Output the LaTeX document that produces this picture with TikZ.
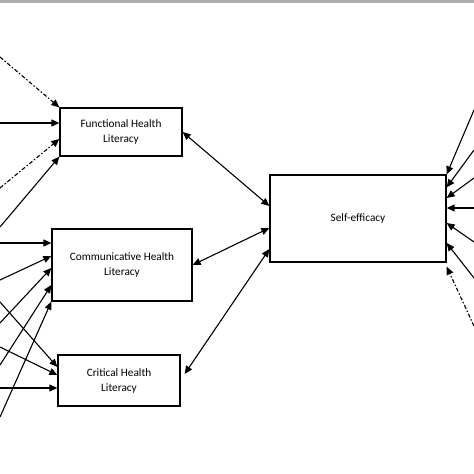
\documentclass[tikz,border=0pt]{standalone}
\usepackage{fontspec}
\setmainfont{Carlito}
\usetikzlibrary{arrows.meta}

\begin{document}
\begin{tikzpicture}[
		x=1pt,y=-1pt,
		box/.style={draw,line width=1.3pt,align=center,inner sep=0pt,font=\fontsize{11.3}{15}\selectfont},
		link/.style={line width=1.1pt,-{Triangle[length=8pt,width=7pt]}},
		both/.style={line width=1.1pt,{Triangle[length=8pt,width=7pt]}-{Triangle[length=8pt,width=7pt]}},
		dashdot/.style={dash pattern=on 4pt off 2pt on 1.5pt off 2pt}
		]
		\useasboundingbox (0,0) rectangle (474,474);
		\fill[gray!65] (0,0) rectangle (474,2.5);
		\node[box,minimum width=122pt,minimum height=48pt] (func) at (121,132) {Functional Health\\Literacy};
		\node[box,minimum width=140pt,minimum height=72pt] (comm) at (122,265) {Communicative Health\\Literacy};
		\node[box,minimum width=122pt,minimum height=51pt] (crit) at (119,380.5) {Critical Health\\Literacy};
		\node[box,minimum width=176pt,minimum height=87pt] (self) at (358,218.5) {Self-efficacy};
		\foreach \n/\y in {1/57,2/123,3/188,4/227,5/243,6/280,7/323,8/365,9/417,10/302,11/347,12/388}
			\coordinate (in\n) at (0,\y);
		\foreach \n/\y in {1/110,2/150,3/178,4/208,5/242,6/278,7/326}
			\coordinate (out\n) at (474,\y);
		\draw[link,dashdot] (in1) -- (func.north west);
		\draw[link] (in2) -- ([yshift=9pt]func.west);
		\draw[link,dashdot] (in3) -- ([yshift=-7pt]func.west);
		\draw[link] (in4) -- (func.south west);
		\draw[link] (in5) -- ([yshift=22pt]comm.west);
		\draw[link] (in6) -- ([yshift=9pt]comm.west);
		\draw[link] (in7) -- ([yshift=-3pt]comm.west);
		\draw[link] (in8) -- ([yshift=-20pt]comm.west);
		\draw[link] (in9) -- (comm.south west);
		\draw[link] (in10) -- ([yshift=13.5pt]crit.west);
		\draw[link] (in11) -- ([yshift=5.5pt]crit.west);
		\draw[link] (in12) -- ([yshift=-7.5pt]crit.west);
		\draw[link] (out1) -- (self.north east);
		\draw[link] (out2) -- ([yshift=-13pt]self.north east);
		\draw[link] (out3) -- ([yshift=20.5pt]self.east);
		\draw[link] (out4) -- ([yshift=10.5pt]self.east);
		\draw[link] (out5) -- ([yshift=-4.5pt]self.east);
		\draw[link] (out6) -- ([yshift=-24.5pt]self.east);
		\draw[link,dashdot] (out7) -- ([yshift=-4pt]self.south east);
		\draw[both] (func.east) -- ([yshift=12.5pt]self.west);
		\draw[both] (comm.east) -- ([yshift=-9.5pt]self.west);
		\draw[both] ([xshift=4pt,yshift=6.5pt]crit.east) -- ([yshift=-30.5pt]self.west);
	\end{tikzpicture}
\end{document}
